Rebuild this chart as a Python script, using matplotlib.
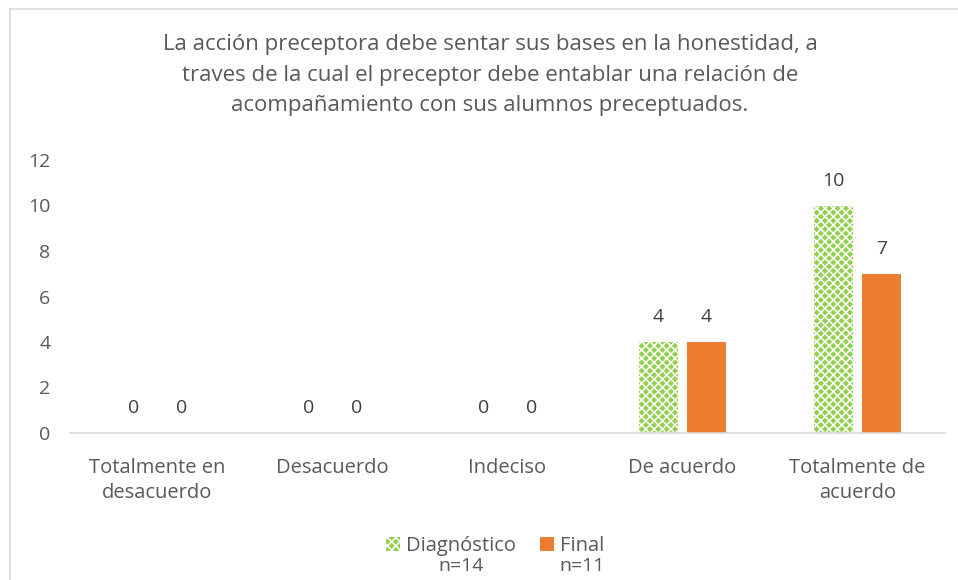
import matplotlib
matplotlib.use("Agg")
import matplotlib.pyplot as plt
from matplotlib.patches import Rectangle
import numpy as np

categories = ["Totalmente en\ndesacuerdo", "Desacuerdo", "Indeciso", "De acuerdo", "Totalmente de\nacuerdo"]
diagnostico = [0, 0, 0, 4, 10]
final = [0, 0, 0, 4, 7]
series_names = ["Diagnóstico", "Final"]
series_n = ["n=14", "n=11"]
yticks = [0, 2, 4, 6, 8, 10, 12]
title = ("La acción preceptora debe sentar sus bases en la honestidad, a\n"
         "traves de la cual el preceptor debe entablar una relación de\n"
         "acompañamiento con sus alumnos preceptuados.")

plt.rcParams['font.family'] = ['Open Sans', 'DejaVu Sans']
plt.rcParams['hatch.linewidth'] = 1.1
gray = '#595959'
green = '#92D050'
orange = '#ED7D31'

fig = plt.figure(figsize=(9.58, 5.8), dpi=100)
fig.patches.append(Rectangle((10/958, -0.1), 2.0, 1 - 9/580 + 0.1, transform=fig.transFigure,
                             fill=False, edgecolor='#D9D9D9', linewidth=1.2))
ax = fig.add_axes([70/958, 1 - 433/580, (945-70)/958, (433-160)/580])

x = np.arange(len(categories))
w = 0.225
off = 0.138
b1 = ax.bar(x - off, diagnostico, w, facecolor=green, edgecolor='white', hatch='xxxx', linewidth=0)
b2 = ax.bar(x + off, final, w, color=orange, linewidth=0)

for bars, vals in ((b1, diagnostico), (b2, final)):
    for r, v in zip(bars, vals):
        ax.annotate(str(v), (r.get_x() + r.get_width()/2, v), xytext=(0, 18), textcoords='offset points',
                    ha='center', va='center', fontsize=14, color='#404040')

ax.set_xlim(-0.5, 4.5)
ax.set_ylim(0, 12)
ax.set_yticks(yticks)
ax.set_xticks(x)
ax.set_xticklabels(categories, fontsize=14.5, color=gray, linespacing=1.3)
ax.tick_params(axis='y', labelsize=14, labelcolor=gray, length=0, pad=14)
ax.tick_params(axis='x', length=0, pad=18)
for s in ['top', 'right', 'left']:
    ax.spines[s].set_visible(False)
ax.spines['bottom'].set_color('#D9D9D9')
ax.spines['bottom'].set_linewidth(1.2)

fig.text(490/958, 1 - 75/580, title, ha='center', va='center', fontsize=16, color=gray, linespacing=1.62)

leg = fig.legend([b1[0], b2[0]], series_names, loc='center', bbox_to_anchor=(495/958, 1 - 546/580),
                 ncol=2, frameon=False, fontsize=14.5, handlelength=0.7, handleheight=0.7,
                 handletextpad=0.3, columnspacing=1.2, labelcolor=gray)
fig.canvas.draw()
inv = fig.transFigure.inverted()
for t, n in zip(leg.get_texts(), series_n):
    bb = t.get_window_extent()
    cx = (bb.x0 + bb.x1) / 2
    fx, fy = inv.transform((cx, bb.y0))
    fig.text(fx, fy - 1/580, n, ha='center', va='top', fontsize=14, color=gray)

fig.savefig('out.png', dpi=100)
